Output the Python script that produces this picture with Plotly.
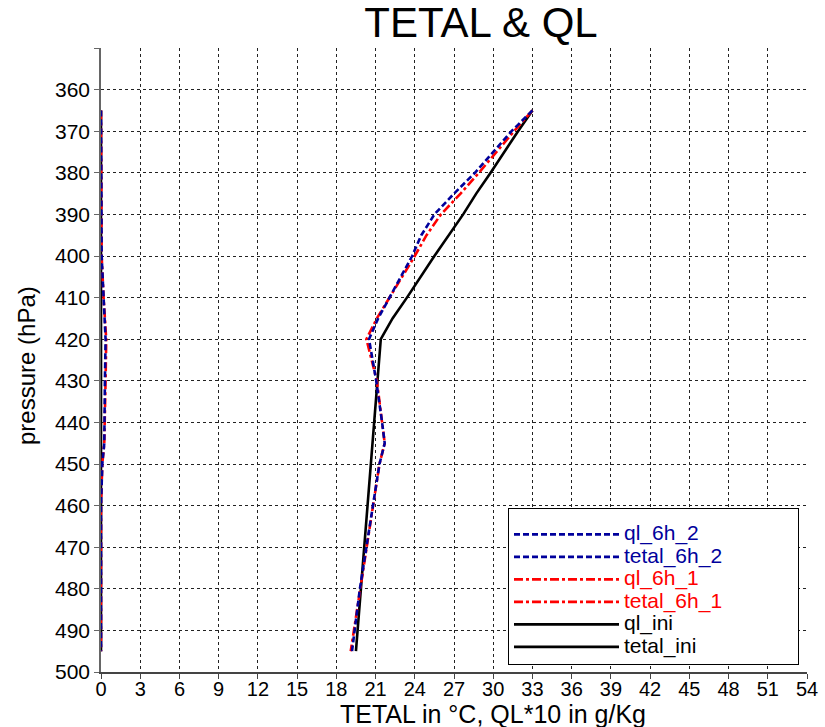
import plotly.graph_objects as go

# pressure levels (hPa)
pressure = [365, 370, 380, 385, 390, 395, 400, 410, 415, 420, 430, 440, 445, 450, 460, 470, 480, 495]

tetal_ini = [33.0, 31.9, 29.8, 28.7, 27.7, 26.6, 25.5, 23.4, 22.3, 21.4, 21.15, 20.9, 20.75, 20.65, 20.4, 20.15, 19.9, 19.5]
ql_ini = [0.0] * len(pressure)

tetal_6h_1 = [33.0, 31.6, 28.9, 27.5, 26.0, 24.9, 24.0, 22.1, 21.1, 20.3, 21.1, 21.5, 21.7, 21.3, 20.8, 20.3, 19.8, 19.1]
ql_6h_1 = [0.0, 0.0, 0.0, 0.0, 0.0, 0.0, 0.05, 0.2, 0.3, 0.4, 0.35, 0.3, 0.25, 0.1, 0.0, 0.0, 0.0, 0.0]

tetal_6h_2 = [33.0, 31.4, 28.6, 27.0, 25.5, 24.5, 23.8, 22.05, 21.2, 20.5, 21.05, 21.5, 21.7, 21.3, 20.8, 20.3, 19.8, 19.2]
ql_6h_2 = [0.0, 0.0, 0.0, 0.0, 0.0, 0.0, 0.05, 0.2, 0.3, 0.35, 0.3, 0.3, 0.25, 0.1, 0.0, 0.0, 0.0, 0.0]

x_ticks = list(range(0, 55, 3))
y_ticks = list(range(350, 501, 10))
y_ticktext = ["" if v == 350 else str(v) for v in y_ticks]

BLUE = "#00009C"
RED = "#FF0000"
BLACK = "#000000"
blue_dash = "6px,3px"
red_dash = "9px,3px,3px,3px"

# (name, values, colour, dash, legend rank) -- drawn in this order, listed by rank
series = [
    ("ql_ini", ql_ini, BLACK, "solid", 5),
    ("tetal_ini", tetal_ini, BLACK, "solid", 6),
    ("ql_6h_1", ql_6h_1, RED, red_dash, 3),
    ("tetal_6h_1", tetal_6h_1, RED, red_dash, 4),
    ("ql_6h_2", ql_6h_2, BLUE, blue_dash, 1),
    ("tetal_6h_2", tetal_6h_2, BLUE, blue_dash, 2),
]

PAD = "&nbsp;" * 17

fig = go.Figure()
for name, vals, color, dash, rank in series:
    fig.add_trace(go.Scatter(
        x=vals, y=pressure, mode="lines",
        name=f"<span style='color:{color};font-size:21px'>{name}</span>{PAD}",
        legendrank=rank, legendgroup=name,
        line=dict(color=color, width=2.6, dash=dash),
    ))

FONT = "Liberation Sans, Arial, sans-serif"

W, H = 825, 727
ML, MR, MT, MB = 101, 18, 48, 55
PW, PH = W - ML - MR, H - MT - MB

fig.update_layout(
    width=W, height=H,
    margin=dict(l=ML, r=MR, t=MT, b=MB, autoexpand=False),
    paper_bgcolor="white", plot_bgcolor="white",
    font=dict(family=FONT, color="black"),
    title=dict(text="TETAL & QL", x=481 / W, xanchor="center", y=1 - 22 / H, yanchor="middle",
               font=dict(size=42, family=FONT, color="black")),
    showlegend=True,
    legend=dict(
        x=(508 - ML) / PW, y=(H - MB - 508) / PH, xanchor="left", yanchor="top",
        traceorder="normal",
        bgcolor="white", bordercolor="black", borderwidth=1,
        font=dict(size=15, family=FONT),
        title=dict(text=" ", font=dict(size=7)),
        itemwidth=105,
        tracegroupgap=2.5,
    ),
    xaxis=dict(
        range=[0, 54], tickvals=x_ticks, ticktext=[str(v) for v in x_ticks],
        showgrid=True, gridcolor="#222", griddash="dot", gridwidth=1,
        showline=True, linecolor="#444", linewidth=1.5,
        ticks="outside", ticklen=5, tickcolor="#444",
        tickfont=dict(size=20, family=FONT),
        ticklabelstandoff=-7,
        zeroline=False, automargin=False,
    ),
    yaxis=dict(
        range=[500, 350], tickvals=y_ticks, ticktext=y_ticktext,
        showgrid=True, gridcolor="#222", griddash="dot", gridwidth=1,
        showline=True, linecolor="#666", linewidth=1.5,
        ticks="outside", ticklen=5, tickcolor="#666",
        tickfont=dict(size=21, family=FONT),
        zeroline=False, automargin=False,
    ),
    annotations=[
        dict(
            text="TETAL in °C, QL*10 in g/Kg", xref="paper", yref="paper",
            x=(493 - ML) / PW, y=(H - MB - 713.5) / PH, xanchor="center", yanchor="middle",
            showarrow=False, font=dict(size=25, family=FONT, color="black"),
        ),
        dict(
            text="pressure (hPa)", xref="paper", yref="paper", textangle=-90,
            x=(26 - ML) / PW, y=(H - MB - 366) / PH, xanchor="center", yanchor="middle",
            showarrow=False, font=dict(size=24, family=FONT, color="black"),
        ),
    ],
)

fig.write_html("out.html", config={"displayModeBar": False},
               post_script="document.body.style.margin='0';")
